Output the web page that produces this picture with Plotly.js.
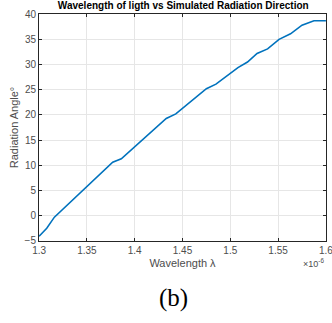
<!DOCTYPE html>
<html><head><meta charset="utf-8">
<script src="https://cdn.plot.ly/plotly-3.0.1.min.js"></script>
<style>html,body{margin:0;padding:0;background:#fff;}#chart{width:332px;height:323px;}</style>
</head><body><div id="chart"></div>
<script>
// wavelength (x 1e-6 m) and radiation angle (degrees)
const wavelength = [1.300, 1.308, 1.316, 1.377, 1.386, 1.433, 1.443, 1.475, 1.485, 1.508, 1.518, 1.528, 1.539, 1.551, 1.563, 1.575, 1.5875, 1.600];
const angle      = [-4.1, -2.5, -0.3, 10.6, 11.3, 19.3, 20.2, 25.2, 26.1, 29.4, 30.5, 32.2, 33.1, 35.0, 36.1, 37.8, 38.7, 38.7];
const xTicks = [1.3, 1.35, 1.4, 1.45, 1.5, 1.55, 1.6];
const xTickLabels = ['1.3', '1.35', '1.4', '1.45', '1.5', '1.55', '1.6'];
const yTicks = [-5, 0, 5, 10, 15, 20, 25, 30, 35, 40];

const axisCommon = {
  showline: true, linecolor: '#262626', linewidth: 1, mirror: 'ticks',
  ticks: 'inside', ticklen: 3, tickcolor: '#262626',
  showgrid: true, gridcolor: '#e6e6e6', gridwidth: 1, zeroline: false,
  ticklabeloverflow: 'allow',
  tickfont: {family: 'Liberation Sans, Arial, sans-serif', size: 10, color: '#4d4d4d'}
};

Plotly.newPlot('chart', [{
  x: wavelength, y: angle, type: 'scatter', mode: 'lines',
  line: {color: '#0072BD', width: 1.6}
}], {
  width: 332, height: 323,
  margin: {l: 39, r: 6, t: 14, b: 82},
  paper_bgcolor: '#fff', plot_bgcolor: '#fff',
  showlegend: false,
  title: {text: '<b>Wavelength of ligth vs Simulated Radiation Direction</b>',
    font: {family: 'Liberation Sans, Arial, sans-serif', size: 10, color: '#000'},
    x: 0.552, xanchor: 'center', y: 0.982, yanchor: 'middle'},
  xaxis: Object.assign({}, axisCommon, {
    range: [1.2999, 1.6001], tickvals: xTicks, ticktext: xTickLabels,
    title: {text: 'Wavelength λ', font: {family: 'Liberation Sans, Arial, sans-serif', size: 11, color: '#4d4d4d'}, standoff: 4}
  }),
  yaxis: Object.assign({}, axisCommon, {
    range: [-5.03, 40.03], tickvals: yTicks,
    title: {text: 'Radiation Angle°', font: {family: 'Liberation Sans, Arial, sans-serif', size: 11, color: '#4d4d4d'}, standoff: 3}
  }),
  annotations: [
    {text: '×10<sup>-6</sup>', xref: 'paper', yref: 'paper', x: 1.0, y: -0.062, xanchor: 'right', yanchor: 'top',
     showarrow: false, font: {family: 'Liberation Sans, Arial, sans-serif', size: 9, color: '#4d4d4d'}},
    {text: '(b)', xref: 'paper', yref: 'paper', x: 0.47, y: -0.251, xanchor: 'center', yanchor: 'middle',
     showarrow: false, font: {family: 'Liberation Serif, DejaVu Serif, serif', size: 25, color: '#000'}}
  ]
}, {displayModeBar: false, staticPlot: true});
</script></body></html>
